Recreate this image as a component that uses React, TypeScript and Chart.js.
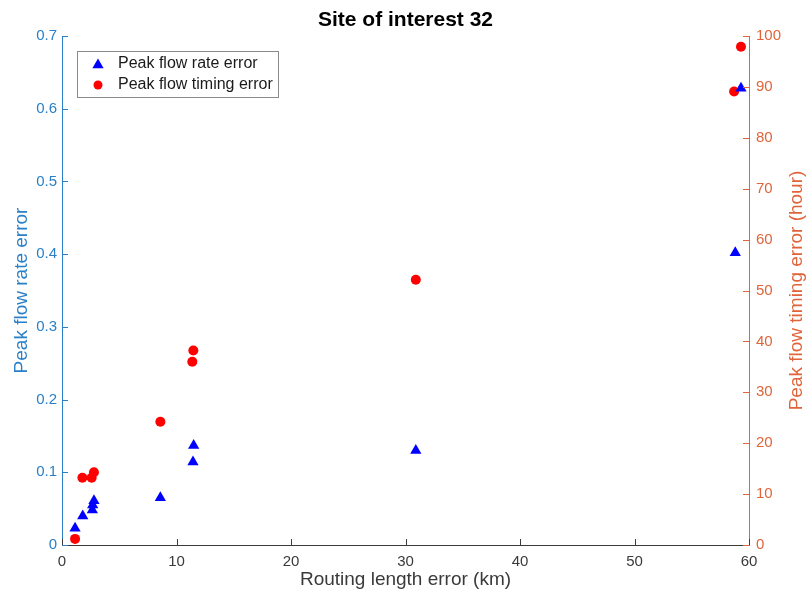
import React, { useEffect, useRef } from "react";
import { Chart, registerables } from "chart.js";

Chart.register(...registerables);

// Routing length error (km) vs. peak flow rate error (left axis)
const rateLengthKm = [1.14, 1.81, 2.65, 2.68, 2.79, 8.59, 11.44, 11.5, 30.9, 58.8, 59.3];
const rateError = [0.023, 0.04, 0.048, 0.055, 0.061, 0.065, 0.114, 0.137, 0.13, 0.402, 0.628];

// Routing length error (km) vs. peak flow timing error in hours (right axis)
const timingLengthKm = [1.14, 1.78, 2.59, 2.79, 8.59, 11.38, 11.47, 30.9, 58.7, 59.3];
const timingErrorHours = [1.2, 13.2, 13.2, 14.3, 24.2, 36.0, 38.2, 52.1, 89.1, 97.9];

const xTicks = [0, 10, 20, 30, 40, 50, 60];
const leftTicks = [0, 0.1, 0.2, 0.3, 0.4, 0.5, 0.6, 0.7];
const rightTicks = [0, 10, 20, 30, 40, 50, 60, 70, 80, 90, 100];

const titleText = "Site of interest 32";
const xTitle = "Routing length error (km)";
const leftTitle = "Peak flow rate error";
const rightTitle = "Peak flow timing error (hour)";
const legendLabels = ["Peak flow rate error", "Peak flow timing error"];

const FONT = "'Liberation Sans', Arial, Helvetica, sans-serif";
const BLUE_AXIS = "#2a80c8";
const ORANGE_AXIS = "#e0643a";
const GRAY_AXIS = "#3a3a3a";
const MARK_BLUE = "#0000ff";
const MARK_RED = "#ff0000";

const toPoints = (xs: number[], ys: number[]) => xs.map((x, i) => ({ x, y: ys[i] }));

function drawTriangle(ctx: CanvasRenderingContext2D, cx: number, cy: number, r: number) {
  ctx.beginPath();
  ctx.moveTo(cx, cy - r);
  ctx.lineTo(cx + r * 0.866, cy + r * 0.5);
  ctx.lineTo(cx - r * 0.866, cy + r * 0.5);
  ctx.closePath();
  ctx.fill();
}

// Inward ticks, axis titles, chart title and the boxed legend
const decorPlugin = {
  id: "decor",
  afterDraw(chart: any) {
    const { ctx, chartArea, scales } = chart;
    const { left, right, top, bottom } = chartArea;
    const tick = 6;
    ctx.save();
    ctx.lineWidth = 1;

    ctx.strokeStyle = GRAY_AXIS;
    xTicks.forEach((v) => {
      const px = Math.round(scales.x.getPixelForValue(v)) + 0.5;
      ctx.beginPath();
      ctx.moveTo(px, bottom);
      ctx.lineTo(px, bottom - tick);
      ctx.stroke();
    });
    ctx.strokeStyle = BLUE_AXIS;
    leftTicks.forEach((v) => {
      const py = Math.round(scales.y.getPixelForValue(v)) + 0.5;
      ctx.beginPath();
      ctx.moveTo(left, py);
      ctx.lineTo(left + tick, py);
      ctx.stroke();
    });
    ctx.strokeStyle = ORANGE_AXIS;
    rightTicks.forEach((v) => {
      const py = Math.round(scales.y1.getPixelForValue(v)) + 0.5;
      ctx.beginPath();
      ctx.moveTo(right, py);
      ctx.lineTo(right - tick, py);
      ctx.stroke();
    });

    const midY = (top + bottom) / 2;
    const midX = (left + right) / 2;

    ctx.textAlign = "center";
    ctx.textBaseline = "middle";

    ctx.fillStyle = "#000000";
    ctx.font = `bold 21px ${FONT}`;
    ctx.fillText(titleText, midX, 20);

    ctx.fillStyle = GRAY_AXIS;
    ctx.font = `19px ${FONT}`;
    ctx.fillText(xTitle, midX, 580);

    ctx.save();
    ctx.translate(22, midY);
    ctx.rotate(-Math.PI / 2);
    ctx.fillStyle = BLUE_AXIS;
    ctx.fillText(leftTitle, 0, 0);
    ctx.restore();

    ctx.save();
    ctx.translate(797, midY);
    ctx.rotate(-Math.PI / 2);
    ctx.fillStyle = ORANGE_AXIS;
    ctx.fillText(rightTitle, 0, 0);
    ctx.restore();

    // legend
    const lx = 77, ly = 51, lw = 201, lh = 46;
    ctx.fillStyle = "#ffffff";
    ctx.fillRect(lx, ly, lw, lh);
    ctx.strokeStyle = "#8a8a8a";
    ctx.strokeRect(lx + 0.5, ly + 0.5, lw, lh);

    ctx.fillStyle = MARK_BLUE;
    drawTriangle(ctx, 98, 65, 6.5);
    ctx.fillStyle = MARK_RED;
    ctx.beginPath();
    ctx.arc(98, 85, 4.5, 0, Math.PI * 2);
    ctx.fill();

    ctx.fillStyle = "#1a1a1a";
    ctx.font = `16px ${FONT}`;
    ctx.textAlign = "left";
    ctx.fillText(legendLabels[0], 118, 64);
    ctx.fillText(legendLabels[1], 118, 85);

    ctx.restore();
  },
};

export default function App() {
  const canvasRef = useRef<HTMLCanvasElement | null>(null);

  useEffect(() => {
    document.body.style.margin = "0";
    const canvas = canvasRef.current;
    if (!canvas) return;

    const chart = new Chart(canvas, {
      type: "scatter",
      data: {
        datasets: [
          {
            label: legendLabels[0],
            data: toPoints(rateLengthKm, rateError),
            yAxisID: "y",
            pointStyle: "triangle",
            pointRadius: 6.5,
            pointBackgroundColor: MARK_BLUE,
            pointBorderColor: MARK_BLUE,
            pointBorderWidth: 0,
          },
          {
            label: legendLabels[1],
            data: toPoints(timingLengthKm, timingErrorHours),
            yAxisID: "y1",
            pointStyle: "circle",
            pointRadius: 5,
            pointBackgroundColor: MARK_RED,
            pointBorderColor: MARK_RED,
            pointBorderWidth: 0,
          },
        ],
      },
      options: {
        animation: false,
        responsive: false,
        maintainAspectRatio: false,
        layout: { padding: { top: 36, left: 0, right: 0, bottom: 0 } },
        plugins: {
          legend: { display: false },
          title: { display: false },
          tooltip: { enabled: false },
        },
        scales: {
          x: {
            type: "linear",
            min: 0,
            max: 60,
            afterBuildTicks: (s: any) => {
              s.ticks = xTicks.map((value) => ({ value }));
            },
            afterFit: (s: any) => {
              s.height = 51;
            },
            grid: { display: true, drawOnChartArea: false, drawTicks: false },
            border: { display: true, color: GRAY_AXIS, width: 1 },
            ticks: {
              padding: 8,
              color: GRAY_AXIS,
              font: { family: FONT, size: 15 },
              maxRotation: 0,
            },
          },
          y: {
            type: "linear",
            position: "left",
            min: 0,
            max: 0.7,
            afterBuildTicks: (s: any) => {
              s.ticks = leftTicks.map((value) => ({ value }));
            },
            afterFit: (s: any) => {
              s.width = 62;
            },
            grid: { display: true, drawOnChartArea: false, drawTicks: false },
            border: { display: true, color: BLUE_AXIS, width: 1 },
            ticks: {
              padding: 5,
              color: BLUE_AXIS,
              font: { family: FONT, size: 15 },
              callback: (v: any) => (v === 0 ? "0" : Number(v).toFixed(1)),
            },
          },
          y1: {
            type: "linear",
            position: "right",
            min: 0,
            max: 100,
            afterBuildTicks: (s: any) => {
              s.ticks = rightTicks.map((value) => ({ value }));
            },
            afterFit: (s: any) => {
              s.width = 58;
            },
            grid: { display: true, drawOnChartArea: false, drawTicks: false },
            border: { display: true, color: ORANGE_AXIS, width: 1 },
            ticks: {
              padding: 7,
              color: ORANGE_AXIS,
              font: { family: FONT, size: 15 },
            },
          },
        },
      },
      plugins: [decorPlugin],
    } as any);

    return () => chart.destroy();
  }, []);

  return (
    <div style={{ width: 807, height: 596, background: "#ffffff" }}>
      <canvas ref={canvasRef} width={807} height={596} style={{ display: "block" }} />
    </div>
  );
}
